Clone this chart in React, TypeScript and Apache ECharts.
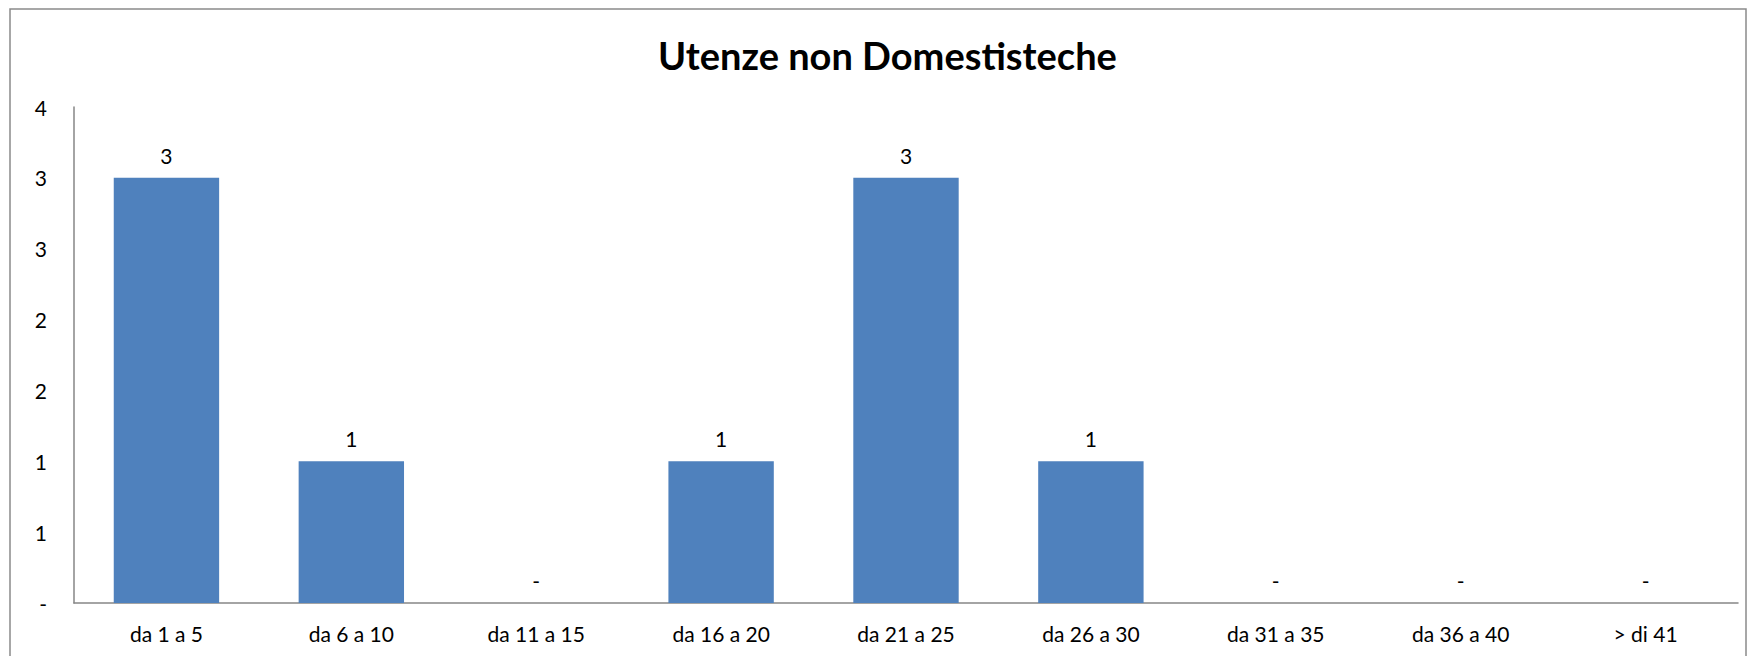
import React, { useEffect, useRef } from "react";
import * as echarts from "echarts";

const titleText = "Utenze non Domestisteche";
const categories = [
  "da 1 a 5",
  "da 6 a 10",
  "da 11 a 15",
  "da 16 a 20",
  "da 21 a 25",
  "da 26 a 30",
  "da 31 a 35",
  "da 36 a 40",
  "> di 41",
];
const values = [3, 1, 0, 1, 3, 1, 0, 0, 0];
const yMin = 0;
const yMax = 3.5;
const yInterval = 0.5;

const FONT = "Lato";

const fmt = (v: number) => (v === 0 ? "-" : String(Math.round(v)));

export default function App() {
  const ref = useRef<HTMLDivElement>(null);
  useEffect(() => {
    if (!ref.current) return;
    const chart = echarts.init(ref.current, undefined, { renderer: "svg" });
    chart.setOption({
      animation: false,
      backgroundColor: "#ffffff",
      textStyle: { fontFamily: FONT },
      title: {
        text: titleText,
        left: 653,
        top: 31,
        textStyle: {
          fontFamily: FONT,
          fontWeight: "bold",
          fontSize: 38,
          color: "#000000",
        },
      },
      graphic: [
        {
          type: "rect",
          shape: { x: 10, y: 9, width: 1736, height: 700 },
          style: { fill: "none", stroke: "#8a8a8a", lineWidth: 1.5 },
          silent: true,
        },
      ],
      grid: { left: 74, top: 107, right: 16, bottom: 53, containLabel: false },
      xAxis: {
        type: "category",
        data: categories,
        axisLine: { show: true, lineStyle: { color: "#868686", width: 1.5 } },
        axisTick: { show: false },
        axisLabel: {
          interval: 0,
          margin: 20,
          fontFamily: FONT,
          fontSize: 21,
          color: "#000000",
        },
      },
      yAxis: {
        type: "value",
        min: yMin,
        max: yMax,
        interval: yInterval,
        splitLine: { show: false },
        axisLine: { show: true, lineStyle: { color: "#868686", width: 1.5 } },
        axisTick: { show: false },
        axisLabel: {
          margin: 27,
          fontFamily: FONT,
          fontSize: 21,
          color: "#000000",
          formatter: (v: number) => fmt(v),
        },
      },
      series: [
        {
          type: "bar",
          data: values,
          barCategoryGap: "43%",
          itemStyle: { color: "#4F81BD" },
          label: {
            show: true,
            position: "top",
            distance: 12,
            fontFamily: FONT,
            fontSize: 21,
            color: "#000000",
            formatter: (p: any) => fmt(p.value),
          },
        },
      ],
    });
    return () => chart.dispose();
  }, []);
  return (
    <div
      ref={ref}
      style={{ position: "fixed", left: 0, top: 0, width: 1754, height: 656 }}
    />
  );
}
